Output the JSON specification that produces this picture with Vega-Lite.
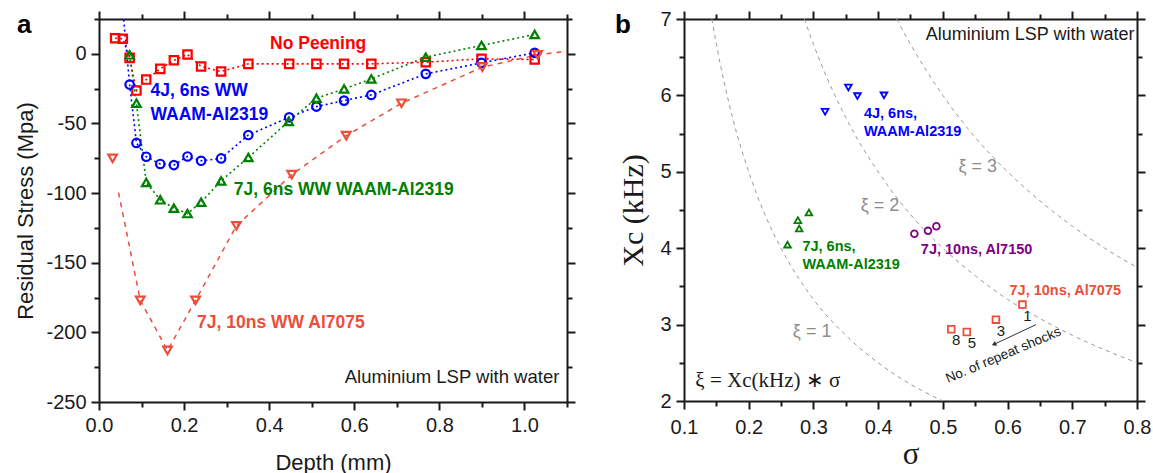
{
  "$schema": "https://vega.github.io/schema/vega-lite/v6.json",
  "background": "white",
  "padding": {"left": 14, "top": 9, "right": 5, "bottom": 5},
  "spacing": 117,
  "bounds": "flush",
  "datasets": {
    "profilesA": [
      {"series": "No Peening", "depth": 0.038, "stress": 11.2},
      {"series": "No Peening", "depth": 0.056, "stress": 10.8},
      {"series": "No Peening", "depth": 0.072, "stress": -2.9},
      {"series": "No Peening", "depth": 0.088, "stress": -26.4},
      {"series": "No Peening", "depth": 0.111, "stress": -18.5},
      {"series": "No Peening", "depth": 0.144, "stress": -10.8},
      {"series": "No Peening", "depth": 0.176, "stress": -4.6},
      {"series": "No Peening", "depth": 0.208, "stress": -0.5},
      {"series": "No Peening", "depth": 0.240, "stress": -9.1},
      {"series": "No Peening", "depth": 0.287, "stress": -12.7},
      {"series": "No Peening", "depth": 0.351, "stress": -7.2},
      {"series": "No Peening", "depth": 0.447, "stress": -7.2},
      {"series": "No Peening", "depth": 0.511, "stress": -7.2},
      {"series": "No Peening", "depth": 0.576, "stress": -7.2},
      {"series": "No Peening", "depth": 0.640, "stress": -7.2},
      {"series": "No Peening", "depth": 0.768, "stress": -6.0},
      {"series": "No Peening", "depth": 0.899, "stress": -3.6},
      {"series": "No Peening", "depth": 1.024, "stress": -4.1},
      {"series": "4J, 6ns WW WAAM-Al2319", "depth": 0.072, "stress": -22.1},
      {"series": "4J, 6ns WW WAAM-Al2319", "depth": 0.088, "stress": -64.0},
      {"series": "4J, 6ns WW WAAM-Al2319", "depth": 0.111, "stress": -73.9},
      {"series": "4J, 6ns WW WAAM-Al2319", "depth": 0.144, "stress": -79.1},
      {"series": "4J, 6ns WW WAAM-Al2319", "depth": 0.176, "stress": -79.9},
      {"series": "4J, 6ns WW WAAM-Al2319", "depth": 0.208, "stress": -73.7},
      {"series": "4J, 6ns WW WAAM-Al2319", "depth": 0.240, "stress": -76.8},
      {"series": "4J, 6ns WW WAAM-Al2319", "depth": 0.287, "stress": -75.1},
      {"series": "4J, 6ns WW WAAM-Al2319", "depth": 0.351, "stress": -58.3},
      {"series": "4J, 6ns WW WAAM-Al2319", "depth": 0.447, "stress": -45.6},
      {"series": "4J, 6ns WW WAAM-Al2319", "depth": 0.511, "stress": -37.9},
      {"series": "4J, 6ns WW WAAM-Al2319", "depth": 0.576, "stress": -33.6},
      {"series": "4J, 6ns WW WAAM-Al2319", "depth": 0.640, "stress": -29.5},
      {"series": "4J, 6ns WW WAAM-Al2319", "depth": 0.768, "stress": -14.4},
      {"series": "4J, 6ns WW WAAM-Al2319", "depth": 0.899, "stress": -6.5},
      {"series": "4J, 6ns WW WAAM-Al2319", "depth": 1.024, "stress": 0.7},
      {"series": "7J, 6ns WW WAAM-Al2319", "depth": 0.072, "stress": -0.7},
      {"series": "7J, 6ns WW WAAM-Al2319", "depth": 0.088, "stress": -35.5},
      {"series": "7J, 6ns WW WAAM-Al2319", "depth": 0.111, "stress": -92.4},
      {"series": "7J, 6ns WW WAAM-Al2319", "depth": 0.144, "stress": -104.8},
      {"series": "7J, 6ns WW WAAM-Al2319", "depth": 0.176, "stress": -110.8},
      {"series": "7J, 6ns WW WAAM-Al2319", "depth": 0.208, "stress": -114.7},
      {"series": "7J, 6ns WW WAAM-Al2319", "depth": 0.240, "stress": -106.5},
      {"series": "7J, 6ns WW WAAM-Al2319", "depth": 0.287, "stress": -91.2},
      {"series": "7J, 6ns WW WAAM-Al2319", "depth": 0.351, "stress": -74.4},
      {"series": "7J, 6ns WW WAAM-Al2319", "depth": 0.446, "stress": -48.5},
      {"series": "7J, 6ns WW WAAM-Al2319", "depth": 0.511, "stress": -31.9},
      {"series": "7J, 6ns WW WAAM-Al2319", "depth": 0.576, "stress": -25.2},
      {"series": "7J, 6ns WW WAAM-Al2319", "depth": 0.640, "stress": -18.0},
      {"series": "7J, 6ns WW WAAM-Al2319", "depth": 0.768, "stress": -2.4},
      {"series": "7J, 6ns WW WAAM-Al2319", "depth": 0.899, "stress": 6.0},
      {"series": "7J, 6ns WW WAAM-Al2319", "depth": 1.024, "stress": 13.9},
      {"series": "7J, 10ns WW Al7075", "depth": 0.032, "stress": -75.1},
      {"series": "7J, 10ns WW Al7075", "depth": 0.097, "stress": -177.0},
      {"series": "7J, 10ns WW Al7075", "depth": 0.161, "stress": -213.0},
      {"series": "7J, 10ns WW Al7075", "depth": 0.227, "stress": -177.0},
      {"series": "7J, 10ns WW Al7075", "depth": 0.323, "stress": -123.5},
      {"series": "7J, 10ns WW Al7075", "depth": 0.453, "stress": -86.8},
      {"series": "7J, 10ns WW Al7075", "depth": 0.581, "stress": -58.8},
      {"series": "7J, 10ns WW Al7075", "depth": 0.711, "stress": -35.5},
      {"series": "7J, 10ns WW Al7075", "depth": 0.901, "stress": -9.6},
      {"series": "7J, 10ns WW Al7075", "depth": 1.031, "stress": -0.7}
    ],
    "curvesA": [
      {"series": "No Peening", "depth": 0.038, "stress": 11.2},
      {"series": "No Peening", "depth": 0.056, "stress": 10.8},
      {"series": "No Peening", "depth": 0.072, "stress": -2.9},
      {"series": "No Peening", "depth": 0.088, "stress": -26.4},
      {"series": "No Peening", "depth": 0.111, "stress": -18.5},
      {"series": "No Peening", "depth": 0.144, "stress": -10.8},
      {"series": "No Peening", "depth": 0.176, "stress": -4.6},
      {"series": "No Peening", "depth": 0.208, "stress": -0.5},
      {"series": "No Peening", "depth": 0.240, "stress": -9.1},
      {"series": "No Peening", "depth": 0.287, "stress": -12.7},
      {"series": "No Peening", "depth": 0.351, "stress": -7.2},
      {"series": "No Peening", "depth": 0.447, "stress": -7.2},
      {"series": "No Peening", "depth": 0.511, "stress": -7.2},
      {"series": "No Peening", "depth": 0.576, "stress": -7.2},
      {"series": "No Peening", "depth": 0.640, "stress": -7.2},
      {"series": "No Peening", "depth": 0.768, "stress": -6.0},
      {"series": "No Peening", "depth": 0.899, "stress": -3.6},
      {"series": "No Peening", "depth": 1.024, "stress": -4.1},
      {"series": "4J, 6ns WW WAAM-Al2319", "depth": 0.058, "stress": 24.5},
      {"series": "4J, 6ns WW WAAM-Al2319", "depth": 0.072, "stress": -22.1},
      {"series": "4J, 6ns WW WAAM-Al2319", "depth": 0.088, "stress": -64.0},
      {"series": "4J, 6ns WW WAAM-Al2319", "depth": 0.111, "stress": -73.9},
      {"series": "4J, 6ns WW WAAM-Al2319", "depth": 0.144, "stress": -79.1},
      {"series": "4J, 6ns WW WAAM-Al2319", "depth": 0.176, "stress": -79.9},
      {"series": "4J, 6ns WW WAAM-Al2319", "depth": 0.208, "stress": -73.7},
      {"series": "4J, 6ns WW WAAM-Al2319", "depth": 0.240, "stress": -76.8},
      {"series": "4J, 6ns WW WAAM-Al2319", "depth": 0.287, "stress": -75.1},
      {"series": "4J, 6ns WW WAAM-Al2319", "depth": 0.351, "stress": -58.3},
      {"series": "4J, 6ns WW WAAM-Al2319", "depth": 0.447, "stress": -45.6},
      {"series": "4J, 6ns WW WAAM-Al2319", "depth": 0.511, "stress": -37.9},
      {"series": "4J, 6ns WW WAAM-Al2319", "depth": 0.576, "stress": -33.6},
      {"series": "4J, 6ns WW WAAM-Al2319", "depth": 0.640, "stress": -29.5},
      {"series": "4J, 6ns WW WAAM-Al2319", "depth": 0.768, "stress": -14.4},
      {"series": "4J, 6ns WW WAAM-Al2319", "depth": 0.899, "stress": -6.5},
      {"series": "4J, 6ns WW WAAM-Al2319", "depth": 1.024, "stress": 0.7},
      {"series": "7J, 6ns WW WAAM-Al2319", "depth": 0.072, "stress": -0.7},
      {"series": "7J, 6ns WW WAAM-Al2319", "depth": 0.088, "stress": -35.5},
      {"series": "7J, 6ns WW WAAM-Al2319", "depth": 0.111, "stress": -92.4},
      {"series": "7J, 6ns WW WAAM-Al2319", "depth": 0.144, "stress": -104.8},
      {"series": "7J, 6ns WW WAAM-Al2319", "depth": 0.176, "stress": -110.8},
      {"series": "7J, 6ns WW WAAM-Al2319", "depth": 0.208, "stress": -114.7},
      {"series": "7J, 6ns WW WAAM-Al2319", "depth": 0.240, "stress": -106.5},
      {"series": "7J, 6ns WW WAAM-Al2319", "depth": 0.287, "stress": -91.2},
      {"series": "7J, 6ns WW WAAM-Al2319", "depth": 0.351, "stress": -74.4},
      {"series": "7J, 6ns WW WAAM-Al2319", "depth": 0.446, "stress": -48.5},
      {"series": "7J, 6ns WW WAAM-Al2319", "depth": 0.511, "stress": -31.9},
      {"series": "7J, 6ns WW WAAM-Al2319", "depth": 0.576, "stress": -25.2},
      {"series": "7J, 6ns WW WAAM-Al2319", "depth": 0.640, "stress": -18.0},
      {"series": "7J, 6ns WW WAAM-Al2319", "depth": 0.768, "stress": -2.4},
      {"series": "7J, 6ns WW WAAM-Al2319", "depth": 0.899, "stress": 6.0},
      {"series": "7J, 6ns WW WAAM-Al2319", "depth": 1.024, "stress": 13.9},
      {"series": "7J, 10ns WW Al7075", "depth": 0.046, "stress": -99.6},
      {"series": "7J, 10ns WW Al7075", "depth": 0.097, "stress": -177.0},
      {"series": "7J, 10ns WW Al7075", "depth": 0.161, "stress": -213.0},
      {"series": "7J, 10ns WW Al7075", "depth": 0.227, "stress": -177.0},
      {"series": "7J, 10ns WW Al7075", "depth": 0.323, "stress": -123.5},
      {"series": "7J, 10ns WW Al7075", "depth": 0.453, "stress": -86.8},
      {"series": "7J, 10ns WW Al7075", "depth": 0.581, "stress": -58.8},
      {"series": "7J, 10ns WW Al7075", "depth": 0.711, "stress": -35.5},
      {"series": "7J, 10ns WW Al7075", "depth": 0.901, "stress": -9.6},
      {"series": "7J, 10ns WW Al7075", "depth": 1.031, "stress": -0.7},
      {"series": "7J, 10ns WW Al7075", "depth": 1.1, "stress": 2.0}
    ],
    "labelsA": [
      {"series": "No Peening", "depth": 0.402, "stress": 7.4, "text": "No Peening"},
      {"series": "4J, 6ns WW WAAM-Al2319", "depth": 0.121, "stress": -26.9, "text": "4J, 6ns WW"},
      {"series": "4J, 6ns WW WAAM-Al2319", "depth": 0.121, "stress": -43.9, "text": "WAAM-Al2319"},
      {"series": "7J, 6ns WW WAAM-Al2319", "depth": 0.317, "stress": -97.8, "text": "7J, 6ns WW WAAM-Al2319"},
      {"series": "7J, 10ns WW Al7075", "depth": 0.2306, "stress": -193.1, "text": "7J, 10ns WW Al7075"}
    ],
    "notesA": [
      {"kind": "panel", "depth": -0.193, "stress": 15.3, "text": "a"},
      {"kind": "note", "depth": 1.082, "stress": -232.2, "text": "Aluminium LSP with water"}
    ],
    "pointsB": [
      {"series": "4J, 6ns, WAAM-Al2319", "sigma": 0.318, "xc": 5.786},
      {"series": "4J, 6ns, WAAM-Al2319", "sigma": 0.354, "xc": 6.104},
      {"series": "4J, 6ns, WAAM-Al2319", "sigma": 0.368, "xc": 5.99},
      {"series": "4J, 6ns, WAAM-Al2319", "sigma": 0.409, "xc": 6.0},
      {"series": "7J, 6ns, WAAM-Al2319", "sigma": 0.260, "xc": 4.047},
      {"series": "7J, 6ns, WAAM-Al2319", "sigma": 0.278, "xc": 4.257},
      {"series": "7J, 6ns, WAAM-Al2319", "sigma": 0.276, "xc": 4.367},
      {"series": "7J, 6ns, WAAM-Al2319", "sigma": 0.293, "xc": 4.467},
      {"series": "7J, 10ns, Al7150", "sigma": 0.456, "xc": 4.19},
      {"series": "7J, 10ns, Al7150", "sigma": 0.477, "xc": 4.227},
      {"series": "7J, 10ns, Al7150", "sigma": 0.490, "xc": 4.288},
      {"series": "7J, 10ns, Al7075", "sigma": 0.623, "xc": 3.262, "shocks": "1"},
      {"series": "7J, 10ns, Al7075", "sigma": 0.582, "xc": 3.065, "shocks": "3"},
      {"series": "7J, 10ns, Al7075", "sigma": 0.537, "xc": 2.904, "shocks": "5"},
      {"series": "7J, 10ns, Al7075", "sigma": 0.513, "xc": 2.939, "shocks": "8"}
    ],
    "xiCurves": [
      {"xi": 1, "sigma": 0.143, "xc": 7.0},
      {"xi": 1, "sigma": 0.15, "xc": 6.67},
      {"xi": 1, "sigma": 0.175, "xc": 5.71},
      {"xi": 1, "sigma": 0.2, "xc": 5.0},
      {"xi": 1, "sigma": 0.225, "xc": 4.44},
      {"xi": 1, "sigma": 0.25, "xc": 4.0},
      {"xi": 1, "sigma": 0.3, "xc": 3.33},
      {"xi": 1, "sigma": 0.35, "xc": 2.86},
      {"xi": 1, "sigma": 0.4, "xc": 2.5},
      {"xi": 1, "sigma": 0.45, "xc": 2.22},
      {"xi": 1, "sigma": 0.5, "xc": 2.0},
      {"xi": 2, "sigma": 0.286, "xc": 7.0},
      {"xi": 2, "sigma": 0.3, "xc": 6.67},
      {"xi": 2, "sigma": 0.35, "xc": 5.71},
      {"xi": 2, "sigma": 0.4, "xc": 5.0},
      {"xi": 2, "sigma": 0.45, "xc": 4.44},
      {"xi": 2, "sigma": 0.5, "xc": 4.0},
      {"xi": 2, "sigma": 0.55, "xc": 3.64},
      {"xi": 2, "sigma": 0.6, "xc": 3.33},
      {"xi": 2, "sigma": 0.65, "xc": 3.08},
      {"xi": 2, "sigma": 0.7, "xc": 2.86},
      {"xi": 2, "sigma": 0.75, "xc": 2.67},
      {"xi": 2, "sigma": 0.8, "xc": 2.5},
      {"xi": 3, "sigma": 0.4286, "xc": 7.0},
      {"xi": 3, "sigma": 0.45, "xc": 6.67},
      {"xi": 3, "sigma": 0.5, "xc": 6.0},
      {"xi": 3, "sigma": 0.55, "xc": 5.45},
      {"xi": 3, "sigma": 0.6, "xc": 5.0},
      {"xi": 3, "sigma": 0.65, "xc": 4.62},
      {"xi": 3, "sigma": 0.7, "xc": 4.29},
      {"xi": 3, "sigma": 0.75, "xc": 4.0},
      {"xi": 3, "sigma": 0.8, "xc": 3.75}
    ],
    "labelsB": [
      {"series": "4J, 6ns, WAAM-Al2319", "sigma": 0.378, "xc": 5.763, "text": "4J, 6ns,"},
      {"series": "4J, 6ns, WAAM-Al2319", "sigma": 0.378, "xc": 5.524, "text": "WAAM-Al2319"},
      {"series": "7J, 6ns, WAAM-Al2319", "sigma": 0.283, "xc": 4.017, "text": "7J, 6ns,"},
      {"series": "7J, 6ns, WAAM-Al2319", "sigma": 0.283, "xc": 3.778, "text": "WAAM-Al2319"},
      {"series": "7J, 10ns, Al7150", "sigma": 0.466, "xc": 3.974, "text": "7J, 10ns, Al7150"},
      {"series": "7J, 10ns, Al7075", "sigma": 0.603, "xc": 3.437, "text": "7J, 10ns, Al7075"}
    ],
    "notesB": [
      {"kind": "panel", "sigma": -0.0067, "xc": 6.811, "text": "b"},
      {"kind": "note", "sigma": 0.796, "xc": 6.794, "text": "Aluminium LSP with water"},
      {"kind": "xi", "sigma": 0.298, "xc": 2.904, "text": "ξ = 1"},
      {"kind": "xi", "sigma": 0.403, "xc": 4.554, "text": "ξ = 2"},
      {"kind": "xi", "sigma": 0.554, "xc": 5.065, "text": "ξ = 3"},
      {"kind": "formula", "sigma": 0.1175, "xc": 2.262, "text": "ξ = Xc(kHz) ∗ σ"},
      {"kind": "arrow", "sigma": 0.5935, "xc": 2.599, "text": "No. of repeat shocks"}
    ],
    "arrowB": [
      {"sigma": 0.644, "xc": 3.0, "sigma2": 0.58, "xc2": 2.745}
    ]
  },
  "hconcat": [
    {
      "width": 468,
      "height": 383,
      "resolve": {"axis": {"x": "independent", "y": "independent"}},
      "layer": [
        {
          "mark": {"type": "rule", "strokeDash": [2, 2], "color": "#222222", "strokeWidth": 1},
          "encoding": {"y": {"datum": 0, "type": "quantitative", "axis": null}}
        },
        {
          "data": {"name": "curvesA"},
          "transform": [{"filter": "datum.series != '7J, 10ns WW Al7075'"}],
          "mark": {"type": "line", "strokeDash": [2, 3], "strokeWidth": 1.6},
          "encoding": {
            "x": {
              "field": "depth", "type": "quantitative",
              "scale": {"domain": [0, 1.1], "nice": false, "zero": false},
              "axis": {"orient": "top", "title": null, "labels": false, "values": [0, 0.2, 0.4, 0.6, 0.8, 1.0], "tickSize": 8}
            },
            "y": {
              "field": "stress", "type": "quantitative",
              "scale": {"domain": [-250, 25], "nice": false, "zero": false},
              "axis": {"orient": "right", "title": null, "labels": false, "values": [-250, -200, -150, -100, -50, 0], "tickSize": 8}
            },
            "color": {
              "field": "series", "type": "nominal", "legend": null,
              "scale": {"domain": ["No Peening", "4J, 6ns WW WAAM-Al2319", "7J, 6ns WW WAAM-Al2319", "7J, 10ns WW Al7075"], "range": ["#ff0000", "#0000ff", "#008000", "#ea4f3b"]}
            }
          }
        },
        {
          "data": {"name": "curvesA"},
          "transform": [{"filter": "datum.series == '7J, 10ns WW Al7075'"}],
          "mark": {"type": "line", "strokeDash": [5, 5], "strokeWidth": 1.5},
          "encoding": {
            "x": {
              "field": "depth", "type": "quantitative",
              "axis": {"orient": "bottom", "title": null, "labels": false, "domain": false, "values": [0.1, 0.3, 0.5, 0.7, 0.9, 1.1], "tickSize": 5}
            },
            "y": {
              "field": "stress", "type": "quantitative",
              "axis": {"orient": "left", "title": null, "labels": false, "domain": false, "values": [-225, -175, -125, -75, -25, 25], "tickSize": 5}
            },
            "color": {"field": "series", "type": "nominal", "legend": null}
          }
        },
        {
          "data": {"name": "profilesA"},
          "mark": {"type": "point", "filled": false, "strokeWidth": 2.2, "opacity": 1},
          "encoding": {
            "x": {
              "field": "depth", "type": "quantitative",
              "scale": {"domain": [0, 1.1], "nice": false, "zero": false},
              "title": "Depth (mm)",
              "axis": {
                "orient": "bottom",
                "values": [0, 0.2, 0.4, 0.6, 0.8, 1.0],
                "format": ".1f",
                "tickSize": 8,
                "labelPadding": 5,
                "titleFontSize": 22,
                "titleY": 67, "titleBaseline": "alphabetic"
              }
            },
            "y": {
              "field": "stress", "type": "quantitative",
              "scale": {"domain": [-250, 25], "nice": false, "zero": false},
              "title": "Residual Stress (Mpa)",
              "axis": {
                "orient": "left",
                "values": [-250, -200, -150, -100, -50, 0],
                "labelExpr": "'' + datum.value",
                "tickSize": 8,
                "labelPadding": 5,
                "titleFontSize": 22,
                "titleX": -66.5, "titleBaseline": "alphabetic"
              }
            },
            "color": {"field": "series", "type": "nominal", "legend": null},
            "shape": {
              "field": "series", "type": "nominal", "legend": null,
              "scale": {"domain": ["No Peening", "4J, 6ns WW WAAM-Al2319", "7J, 6ns WW WAAM-Al2319", "7J, 10ns WW Al7075"], "range": ["square", "circle", "triangle-up", "triangle-down"]}
            },
            "size": {
              "field": "series", "type": "nominal", "legend": null,
              "scale": {"domain": ["No Peening", "4J, 6ns WW WAAM-Al2319", "7J, 6ns WW WAAM-Al2319", "7J, 10ns WW Al7075"], "range": [70, 75, 110, 120]}
            }
          }
        },
        {
          "data": {"name": "labelsA"},
          "mark": {"type": "text", "font": "Liberation Sans", "fontWeight": "bold", "fontSize": 17.5, "align": "left", "baseline": "middle"},
          "encoding": {
            "x": {
              "field": "depth", "type": "quantitative",
              "axis": {"orient": "top", "title": null, "labels": false, "domain": false, "values": [0.1, 0.3, 0.5, 0.7, 0.9, 1.1], "tickSize": 5}
            },
            "y": {
              "field": "stress", "type": "quantitative",
              "axis": {"orient": "right", "title": null, "labels": false, "domain": false, "values": [-225, -175, -125, -75, -25, 25], "tickSize": 5}
            },
            "text": {"field": "text"},
            "color": {"field": "series", "type": "nominal", "legend": null}
          }
        },
        {
          "data": {"name": "notesA"},
          "transform": [{"filter": "datum.kind == 'note'"}],
          "mark": {"type": "text", "font": "Liberation Sans", "fontSize": 18.5, "align": "right", "baseline": "middle", "color": "#1a1a1a"},
          "encoding": {
            "x": {"field": "depth", "type": "quantitative", "axis": null},
            "y": {"field": "stress", "type": "quantitative", "axis": null},
            "text": {"field": "text"}
          }
        },
        {
          "data": {"name": "notesA"},
          "transform": [{"filter": "datum.kind == 'panel'"}],
          "mark": {"type": "text", "font": "Liberation Sans", "fontWeight": "bold", "fontSize": 26, "align": "left", "baseline": "alphabetic", "color": "#000000"},
          "encoding": {
            "x": {"field": "depth", "type": "quantitative", "axis": null},
            "y": {"field": "stress", "type": "quantitative", "axis": null},
            "text": {"field": "text"}
          }
        }
      ]
    },
    {
      "width": 453,
      "height": 382,
      "resolve": {"axis": {"x": "independent", "y": "independent"}},
      "layer": [
        {
          "data": {"name": "xiCurves"},
          "mark": {"type": "line", "strokeDash": [4, 4], "strokeWidth": 1, "color": "#999999", "interpolate": "monotone"},
          "encoding": {
            "x": {
              "field": "sigma", "type": "quantitative",
              "scale": {"domain": [0.1, 0.8], "nice": false, "zero": false},
              "axis": {"orient": "top", "title": null, "labels": false, "values": [0.1, 0.2, 0.3, 0.4, 0.5, 0.6, 0.7, 0.8], "tickSize": 8}
            },
            "y": {
              "field": "xc", "type": "quantitative",
              "scale": {"domain": [2, 7], "nice": false, "zero": false},
              "axis": {"orient": "right", "title": null, "labels": false, "values": [2, 3, 4, 5, 6, 7], "tickSize": 8}
            },
            "detail": {"field": "xi", "type": "nominal"}
          }
        },
        {
          "data": {"name": "pointsB"},
          "mark": {"type": "point", "filled": false, "strokeWidth": 1.8, "opacity": 1},
          "encoding": {
            "x": {
              "field": "sigma", "type": "quantitative",
              "scale": {"domain": [0.1, 0.8], "nice": false, "zero": false},
              "title": "σ",
              "axis": {
                "orient": "bottom",
                "values": [0.1, 0.2, 0.3, 0.4, 0.5, 0.6, 0.7, 0.8],
                "format": ".1f",
                "tickSize": 8,
                "labelPadding": 8,
                "titleFont": "Liberation Serif", "titleFontSize": 31,
                "titleY": 62, "titleBaseline": "alphabetic"
              }
            },
            "y": {
              "field": "xc", "type": "quantitative",
              "scale": {"domain": [2, 7], "nice": false, "zero": false},
              "title": "Xc (kHz)",
              "axis": {
                "orient": "left",
                "values": [2, 3, 4, 5, 6, 7],
                "labelExpr": "'' + datum.value",
                "tickSize": 8,
                "labelPadding": 5,
                "titleFont": "Liberation Serif", "titleFontSize": 30,
                "titleX": -42, "titleBaseline": "alphabetic"
              }
            },
            "color": {
              "field": "series", "type": "nominal", "legend": null,
              "scale": {"domain": ["4J, 6ns, WAAM-Al2319", "7J, 6ns, WAAM-Al2319", "7J, 10ns, Al7150", "7J, 10ns, Al7075"], "range": ["#0000ff", "#008000", "#800080", "#ea4f3b"]}
            },
            "shape": {
              "field": "series", "type": "nominal", "legend": null,
              "scale": {"domain": ["4J, 6ns, WAAM-Al2319", "7J, 6ns, WAAM-Al2319", "7J, 10ns, Al7150", "7J, 10ns, Al7075"], "range": ["triangle-down", "triangle-up", "circle", "square"]}
            },
            "size": {
              "field": "series", "type": "nominal", "legend": null,
              "scale": {"domain": ["4J, 6ns, WAAM-Al2319", "7J, 6ns, WAAM-Al2319", "7J, 10ns, Al7150", "7J, 10ns, Al7075"], "range": [45, 45, 30, 28]}
            }
          }
        },
        {
          "data": {"name": "pointsB"},
          "transform": [{"filter": "isValid(datum.shocks)"}],
          "mark": {"type": "text", "font": "Liberation Sans", "fontSize": 15, "align": "center", "baseline": "middle", "dx": 5, "dy": 11, "color": "#1a1a1a"},
          "encoding": {
            "x": {
              "field": "sigma", "type": "quantitative",
              "axis": {"orient": "bottom", "title": null, "labels": false, "domain": false, "values": [0.15, 0.25, 0.35, 0.45, 0.55, 0.65, 0.75], "tickSize": 5}
            },
            "y": {
              "field": "xc", "type": "quantitative",
              "axis": {"orient": "left", "title": null, "labels": false, "domain": false, "values": [2.5, 3.5, 4.5, 5.5, 6.5], "tickSize": 5}
            },
            "text": {"field": "shocks"}
          }
        },
        {
          "data": {"name": "labelsB"},
          "mark": {"type": "text", "font": "Liberation Sans", "fontWeight": "bold", "fontSize": 14.5, "align": "left", "baseline": "middle"},
          "encoding": {
            "x": {
              "field": "sigma", "type": "quantitative",
              "axis": {"orient": "top", "title": null, "labels": false, "domain": false, "values": [0.15, 0.25, 0.35, 0.45, 0.55, 0.65, 0.75], "tickSize": 5}
            },
            "y": {
              "field": "xc", "type": "quantitative",
              "axis": {"orient": "right", "title": null, "labels": false, "domain": false, "values": [2.5, 3.5, 4.5, 5.5, 6.5], "tickSize": 5}
            },
            "text": {"field": "text"},
            "color": {"field": "series", "type": "nominal", "legend": null}
          }
        },
        {
          "data": {"name": "arrowB"},
          "mark": {"type": "rule", "color": "#333333", "strokeWidth": 1},
          "encoding": {
            "x": {"field": "sigma", "type": "quantitative", "axis": null},
            "y": {"field": "xc", "type": "quantitative", "axis": null},
            "x2": {"field": "sigma2"},
            "y2": {"field": "xc2"}
          }
        },
        {
          "data": {"name": "arrowB"},
          "mark": {"type": "point", "shape": "triangle", "filled": true, "size": 28, "angle": 245, "color": "#333333", "opacity": 1},
          "encoding": {
            "x": {"field": "sigma2", "type": "quantitative", "axis": null},
            "y": {"field": "xc2", "type": "quantitative", "axis": null}
          }
        },
        {
          "data": {"name": "notesB"},
          "transform": [{"filter": "datum.kind == 'arrow'"}],
          "mark": {"type": "text", "font": "Liberation Sans", "fontSize": 13.5, "align": "center", "baseline": "middle", "angle": -23, "color": "#1a1a1a"},
          "encoding": {
            "x": {"field": "sigma", "type": "quantitative", "axis": null},
            "y": {"field": "xc", "type": "quantitative", "axis": null},
            "text": {"field": "text"}
          }
        },
        {
          "data": {"name": "notesB"},
          "transform": [{"filter": "datum.kind == 'xi'"}],
          "mark": {"type": "text", "font": "Liberation Sans", "fontSize": 18, "align": "center", "baseline": "middle", "color": "#8c8c8c"},
          "encoding": {
            "x": {"field": "sigma", "type": "quantitative", "axis": null},
            "y": {"field": "xc", "type": "quantitative", "axis": null},
            "text": {"field": "text"}
          }
        },
        {
          "data": {"name": "notesB"},
          "transform": [{"filter": "datum.kind == 'formula'"}],
          "mark": {"type": "text", "font": "Liberation Serif", "fontSize": 21, "align": "left", "baseline": "middle", "color": "#1a1a1a"},
          "encoding": {
            "x": {"field": "sigma", "type": "quantitative", "axis": null},
            "y": {"field": "xc", "type": "quantitative", "axis": null},
            "text": {"field": "text"}
          }
        },
        {
          "data": {"name": "notesB"},
          "transform": [{"filter": "datum.kind == 'note'"}],
          "mark": {"type": "text", "font": "Liberation Sans", "fontSize": 18, "align": "right", "baseline": "middle", "color": "#1a1a1a"},
          "encoding": {
            "x": {"field": "sigma", "type": "quantitative", "axis": null},
            "y": {"field": "xc", "type": "quantitative", "axis": null},
            "text": {"field": "text"}
          }
        },
        {
          "data": {"name": "notesB"},
          "transform": [{"filter": "datum.kind == 'panel'"}],
          "mark": {"type": "text", "font": "Liberation Sans", "fontWeight": "bold", "fontSize": 26, "align": "left", "baseline": "alphabetic", "color": "#000000"},
          "encoding": {
            "x": {"field": "sigma", "type": "quantitative", "axis": null},
            "y": {"field": "xc", "type": "quantitative", "axis": null},
            "text": {"field": "text"}
          }
        }
      ]
    }
  ],
  "resolve": {"scale": {"color": "independent", "shape": "independent", "size": "independent", "x": "independent", "y": "independent"}},
  "config": {
    "view": {"stroke": null},
    "axis": {
      "grid": false,
      "domainColor": "#1a1a1a",
      "domainWidth": 2,
      "tickColor": "#1a1a1a",
      "tickWidth": 2,
      "labelFont": "Liberation Sans",
      "labelFontSize": 20,
      "labelColor": "#1a1a1a",
      "labelFlush": false,
      "labelOverlap": false,
      "titleFont": "Liberation Sans",
      "titleFontSize": 20,
      "titleFontWeight": "normal",
      "titleColor": "#1a1a1a"
    }
  }
}
